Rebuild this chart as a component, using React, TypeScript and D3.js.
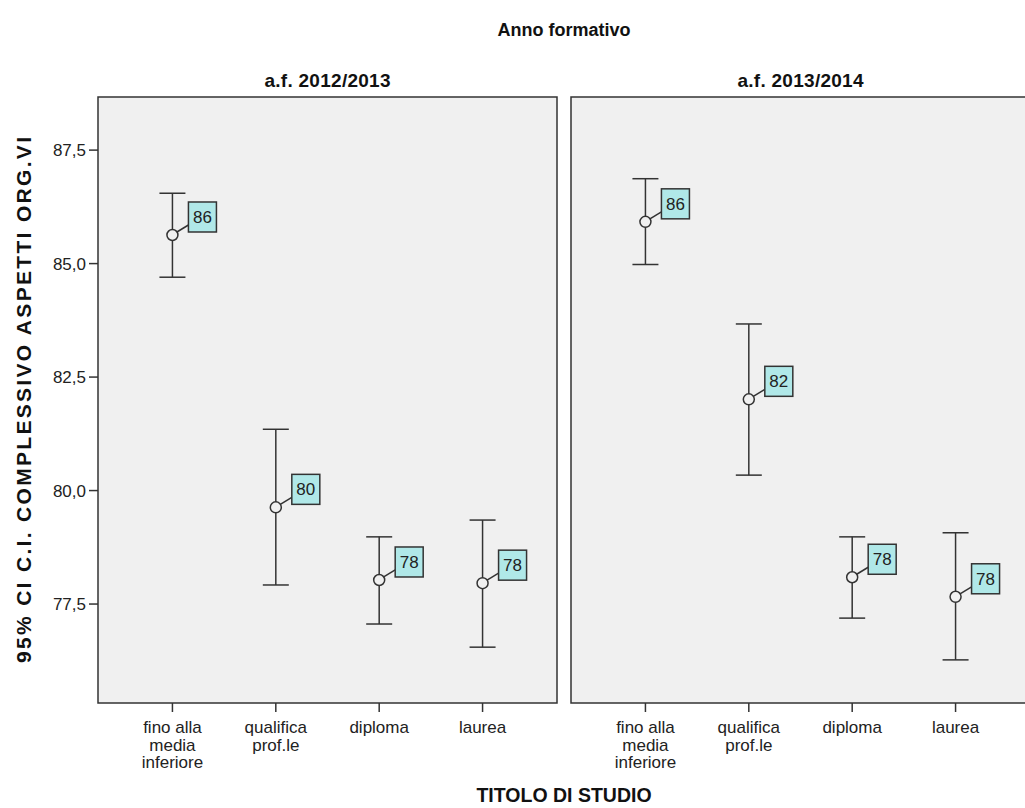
import React from "react";
import * as d3 from "d3";

const categories = ["fino alla media inferiore", "qualifica prof.le", "diploma", "laurea"];
const categoryLines = [["fino alla", "media", "inferiore"], ["qualifica", "prof.le"], ["diploma"], ["laurea"]];
const panelTitles = ["a.f. 2012/2013", "a.f. 2013/2014"];
const mean2012 = [85.63, 79.63, 78.03, 77.96];
const lower2012 = [84.7, 77.92, 77.06, 76.55];
const upper2012 = [86.55, 81.35, 78.98, 79.35];
const mean2013 = [85.92, 82.01, 78.09, 77.66];
const lower2013 = [84.98, 80.34, 77.19, 76.27];
const upper2013 = [86.87, 83.67, 78.98, 79.07];
const yTicks = [77.5, 80.0, 82.5, 85.0, 87.5];

const W = 1025;
const H = 808;
const top = 97;
const bottom = 703;
const panelX = [98, 571];
const panelW = 459;
const FONT = "'Liberation Sans', Arial, sans-serif";
const INK = "#333";

export default function App() {
  const y = d3.scaleLinear().domain([75.32, 88.67]).range([bottom, top]);
  const fmt = (v: number) => v.toFixed(1).replace(".", ",");
  const panels = [
    { title: panelTitles[0], mean: mean2012, lo: lower2012, hi: upper2012 },
    { title: panelTitles[1], mean: mean2013, lo: lower2013, hi: upper2013 },
  ];

  return (
    <svg width={W} height={H} style={{ position: "absolute", left: 0, top: 0, background: "#fff" }} fontFamily={FONT}>
      <text x={564} y={36} textAnchor="middle" fontSize={18} fontWeight="bold" fill="#111">Anno formativo</text>
      {panels.map((p, pi) => {
        const x0 = panelX[pi];
        const x = d3.scalePoint<string>().domain(categories).range([x0, x0 + panelW]).padding(0.72);
        return (
          <g key={pi}>
            <text x={x0 + panelW / 2} y={87} textAnchor="middle" fontSize={19} fontWeight="bold" fill="#111" textLength={126} lengthAdjust="spacing">{p.title}</text>
            <rect x={x0} y={top} width={panelW} height={bottom - top} fill="#f0f0f0" stroke={INK} strokeWidth={1.5} />
            {categories.map((c, i) => {
              const cx = x(c)!;
              return (
                <g key={c}>
                  <line x1={cx} x2={cx} y1={bottom} y2={bottom + 9} stroke={INK} strokeWidth={1.5} />
                  {categoryLines[i].map((ln, li) => (
                    <text key={li} x={cx} y={733 + li * 17.5} textAnchor="middle" fontSize={17} fill="#222">{ln}</text>
                  ))}
                </g>
              );
            })}
            {categories.map((c, i) => {
              const cx = x(c)!;
              const cy = y(p.mean[i]);
              const yh = y(p.hi[i]);
              const yl = y(p.lo[i]);
              const bx = cx + 16;
              const bb = cy - 3;
              const bw = 28;
              const bh = 30;
              return (
                <g key={"e" + c}>
                  <line x1={cx} x2={cx} y1={yh} y2={yl} stroke={INK} strokeWidth={1.5} />
                  <line x1={cx - 13} x2={cx + 13} y1={yh} y2={yh} stroke={INK} strokeWidth={1.5} />
                  <line x1={cx - 13} x2={cx + 13} y1={yl} y2={yl} stroke={INK} strokeWidth={1.5} />
                  <circle cx={cx} cy={cy} r={5.5} fill="#f0f0f0" stroke={INK} strokeWidth={1.5} />
                  <line x1={cx + 4.5} x2={bx} y1={cy - 3} y2={bb - 7} stroke={INK} strokeWidth={1.5} />
                  <rect x={bx} y={bb - bh} width={bw} height={bh} fill="#b0e8e8" stroke={INK} strokeWidth={1.5} />
                  <text x={bx + bw / 2} y={bb - bh / 2 + 6} textAnchor="middle" fontSize={17} fill="#222">{Math.round(p.mean[i])}</text>
                </g>
              );
            })}
          </g>
        );
      })}
      {yTicks.map((t) => (
        <g key={t}>
          <line x1={panelX[0] - 9} x2={panelX[0]} y1={y(t)} y2={y(t)} stroke={INK} strokeWidth={1.5} />
          <text x={panelX[0] - 12} y={y(t) + 6} textAnchor="end" fontSize={17} fill="#222">{fmt(t)}</text>
        </g>
      ))}
      <text transform={`translate(31,${(top + bottom) / 2}) rotate(-90)`} textAnchor="middle" fontSize={21} fontWeight="bold" fill="#111" textLength={526} lengthAdjust="spacing">
        95% CI C.I. COMPLESSIVO ASPETTI ORG.VI
      </text>
      <text x={564} y={802} textAnchor="middle" fontSize={19.5} fontWeight="bold" fill="#111">TITOLO DI STUDIO</text>
    </svg>
  );
}
